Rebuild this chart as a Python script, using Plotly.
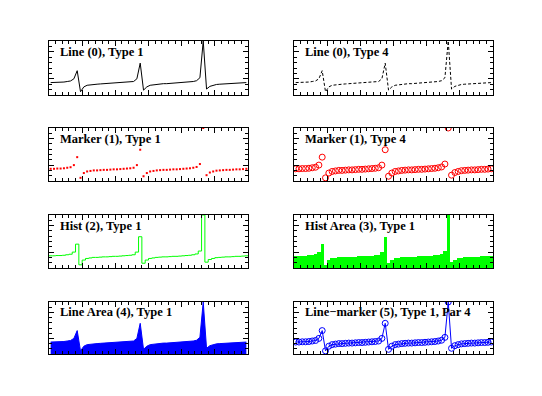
import plotly.graph_objects as go

# ---- data (60 bins; normalised units) ----
values = [0.23, 0.23, 0.235, 0.235, 0.24, 0.25, 0.26, 0.30, 0.45, 0.06,
          0.15, 0.18, 0.19, 0.20, 0.20, 0.205, 0.21, 0.21, 0.215, 0.22,
          0.22, 0.225, 0.23, 0.235, 0.24, 0.25, 0.30, 0.59, 0.09, 0.15,
          0.18, 0.19, 0.20, 0.205, 0.21, 0.21, 0.215, 0.22, 0.22, 0.225,
          0.23, 0.235, 0.24, 0.25, 0.265, 0.32, 1.0, 0.11, 0.16, 0.18,
          0.195, 0.20, 0.205, 0.21, 0.21, 0.215, 0.22, 0.22, 0.225, 0.23]
n_bins = len(values)
x_centers = [i + 0.5 for i in range(n_bins)]
x_edges = list(range(n_bins + 1))
titles = ["Line (0), Type 1", "Line (0), Type 4",
          "Marker (1), Type 1", "Marker (1), Type 4",
          "Hist (2), Type 1", "Hist Area (3), Type 1",
          "Line Area (4), Type 1", "Line\u2212marker (5), Type 1, Par 4"]

OFF = 8  # default page body margin
W, H = 542 - 2 * OFF, 396 - 2 * OFF
col_px = [(49 - OFF, 248 - OFF), (294 - OFF, 493 - OFF)]
row_px = [(41 - OFF, 95 - OFF), (128 - OFF, 181 - OFF), (215 - OFF, 268 - OFF), (302 - OFF, 354 - OFF)]

fig = go.Figure()
GREEN = "#00ff00"
BLUE = "#0000ff"
RED = "#ff0000"

for k in range(8):
    r, c = divmod(k, 2)
    idx = "" if k == 0 else str(k + 1)
    xa, ya = "x" + idx, "y" + idx
    if k == 0:
        fig.add_trace(go.Scatter(x=x_centers, y=values, mode="lines",
                                 line=dict(color="black", width=1), xaxis=xa, yaxis=ya))
    elif k == 1:
        fig.add_trace(go.Scatter(x=x_centers, y=values, mode="lines",
                                 line=dict(color="black", width=1, dash="3px,2px"), xaxis=xa, yaxis=ya))
    elif k == 2:
        fig.add_trace(go.Scatter(x=x_centers, y=values, mode="markers",
                                 marker=dict(color=RED, size=2, symbol="square", line=dict(width=0)),
                                 xaxis=xa, yaxis=ya))
    elif k == 3:
        fig.add_trace(go.Scatter(x=x_centers, y=values, mode="markers",
                                 marker=dict(color=RED, size=6, symbol="circle-open", line=dict(width=1, color=RED)),
                                 xaxis=xa, yaxis=ya))
    elif k == 4:
        fig.add_trace(go.Scatter(x=x_edges, y=values + [values[-1]], mode="lines", line_shape="hv",
                                 line=dict(color=GREEN, width=1), xaxis=xa, yaxis=ya))
    elif k == 5:
        fig.add_trace(go.Bar(x=x_centers, y=values, width=1.0,
                             marker=dict(color=GREEN, line=dict(width=0)), xaxis=xa, yaxis=ya))
    elif k == 6:
        fig.add_trace(go.Scatter(x=x_centers, y=values, mode="lines", fill="tozeroy",
                                 fillcolor=BLUE, line=dict(color=BLUE, width=1), xaxis=xa, yaxis=ya))
    else:
        fig.add_trace(go.Scatter(x=x_centers, y=values, mode="lines+markers",
                                 line=dict(color=BLUE, width=1),
                                 marker=dict(color=BLUE, size=6, symbol="circle-open", line=dict(width=1, color=BLUE)),
                                 xaxis=xa, yaxis=ya))

    x0, x1 = col_px[c]
    y0, y1 = row_px[r]
    xkey = "xaxis" + idx
    ykey = "yaxis" + idx
    fig.layout[xkey] = dict(domain=[x0 / W, x1 / W], anchor=ya, range=[0, n_bins],
                            showticklabels=False, ticks="inside", ticklen=5, tickcolor="black",
                            tick0=0, dtick=10, showgrid=False, zeroline=False,
                            showline=True, linecolor="black", linewidth=1, mirror="ticks",
                            minor=dict(ticks="inside", ticklen=3, dtick=2, tickcolor="black", showgrid=False))
    fig.layout[ykey] = dict(domain=[1 - y1 / H, 1 - y0 / H], anchor=xa, range=[0, 1.0],
                            showticklabels=False, ticks="inside", ticklen=5, tickcolor="black",
                            tick0=0.3, dtick=0.5, showgrid=False, zeroline=False,
                            showline=True, linecolor="black", linewidth=1, mirror="ticks",
                            minor=dict(ticks="inside", ticklen=3, dtick=0.1, tickcolor="black", showgrid=False))
    fig.add_annotation(text="<b>" + titles[k] + "</b>", xref=xa + " domain", yref=ya + " domain",
                       x=0.045, y=0.80, xanchor="left", yanchor="middle", showarrow=False,
                       font=dict(family="Liberation Serif", size=12.5, color="black"))

fig.update_layout(width=W, height=H, margin=dict(l=0, r=0, t=0, b=0),
                  paper_bgcolor="white", plot_bgcolor="white", showlegend=False, bargap=0)
fig.write_html("out.html")
